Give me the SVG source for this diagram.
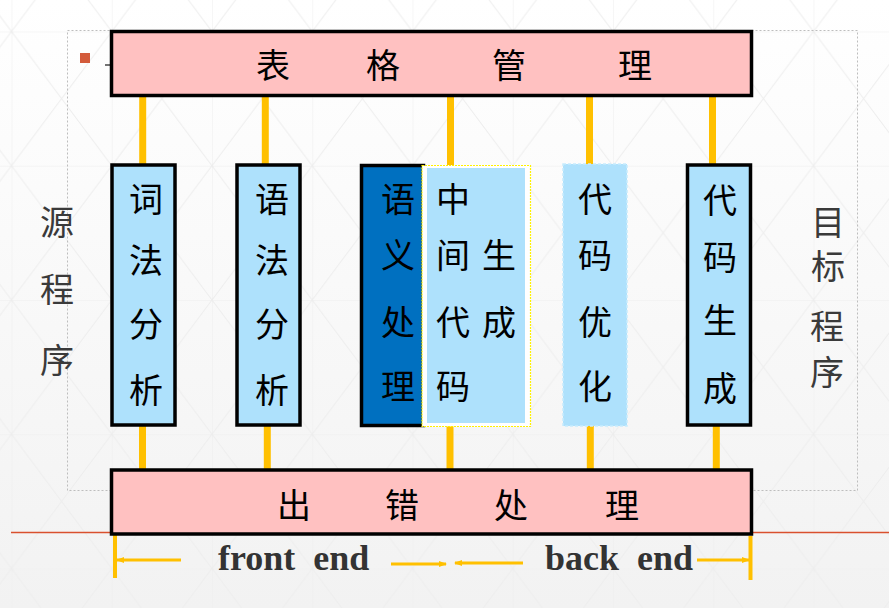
<svg xmlns="http://www.w3.org/2000/svg" width="889" height="608" viewBox="0 0 889 608">
<style>
.cjk{font-family:"Liberation Serif","Noto Sans CJK SC",serif;font-size:34px;fill:#000;text-anchor:middle}
.side{fill:#3a3a3a}
.bar{fill:#FFC1C1;stroke:#000;stroke-width:3.5}
.box{fill:#AEE1FC;stroke:#000;stroke-width:3.5}
.con{stroke:#FFC000;stroke-width:7}
.arr{stroke:#FFC000;stroke-width:3;fill:none}
.en{font-family:"Liberation Serif",serif;font-weight:bold;font-size:36px;fill:#333}
</style>
<defs>
<linearGradient id="bg" x1="0" y1="0" x2="0" y2="1">
<stop offset="0" stop-color="#ffffff"/>
<stop offset="1" stop-color="#f2f2f2"/>
</linearGradient>
<pattern id="grid" patternUnits="userSpaceOnUse" x="11.5" y="31.5" width="100.25" height="134.25">
<path d="M0 0H100.25M0 0V134.25M0 0L100.25 134.25M100.25 0L0 134.25" stroke="#ededed" stroke-width="1" fill="none"/>
</pattern>
<marker id="ah" markerWidth="8" markerHeight="6" refX="7" refY="3" orient="auto" markerUnits="userSpaceOnUse">
<path d="M0 0L8 3L0 6Z" fill="#FFC000"/>
</marker>
</defs>
<rect width="889" height="608" fill="url(#bg)"/>
<rect width="889" height="608" fill="url(#grid)"/>
<rect x="67.5" y="30.5" width="790" height="460" fill="none" stroke="#bdbdbd" stroke-width="1" stroke-dasharray="2 2"/>
<line x1="11" y1="532.5" x2="889" y2="532.5" stroke="#D9502E" stroke-width="1.5"/>
<rect x="80" y="53" width="10" height="10" fill="#D35B3B"/>
<line x1="105" y1="65" x2="111" y2="65" stroke="#444" stroke-width="1.5"/>

<g id="connectors">
<line class="con" x1="142.7" y1="97" x2="142.7" y2="164"/>
<line class="con" x1="265.3" y1="97" x2="265.3" y2="164"/>
<line class="con" x1="450.5" y1="97" x2="450.5" y2="165"/>
<line class="con" x1="589.5" y1="97" x2="589.5" y2="164"/>
<line class="con" x1="712.5" y1="97" x2="712.5" y2="164"/>
<line class="con" x1="142.5" y1="426" x2="142.5" y2="469"/>
<line class="con" x1="267.3" y1="426" x2="267.3" y2="469"/>
<line class="con" x1="450" y1="426" x2="450" y2="469"/>
<line class="con" x1="590.3" y1="426" x2="590.3" y2="469"/>
<line class="con" x1="716.3" y1="426" x2="716.3" y2="469"/>
<line x1="115" y1="534" x2="115" y2="578" stroke="#FFC000" stroke-width="4"/>
<line x1="750.5" y1="536" x2="750.5" y2="580" stroke="#FFC000" stroke-width="4"/>
<line class="arr" x1="181" y1="560" x2="117" y2="560" marker-end="url(#ah)"/>
<line class="arr" x1="391" y1="564" x2="446" y2="564" marker-end="url(#ah)"/>
<line class="arr" x1="523" y1="563" x2="455" y2="563" marker-end="url(#ah)"/>
<line class="arr" x1="697" y1="560" x2="749" y2="560" marker-end="url(#ah)"/>
</g>

<g id="table-mgmt">
<rect class="bar" x="111.5" y="31.5" width="640" height="64"/>
<text class="cjk" x="273" y="78">表</text>
<text class="cjk" x="383" y="78">格</text>
<text class="cjk" x="509" y="78">管</text>
<text class="cjk" x="635" y="78">理</text>
</g>

<g id="error-handling">
<rect class="bar" x="111.5" y="470" width="640" height="64"/>
<text class="cjk" x="294" y="518">出</text>
<text class="cjk" x="402" y="518">错</text>
<text class="cjk" x="511" y="518">处</text>
<text class="cjk" x="622" y="518">理</text>
</g>

<g id="source">
<text class="cjk side" x="57" y="235">源</text>
<text class="cjk side" x="57" y="302">程</text>
<text class="cjk side" x="57" y="373">序</text>
</g>

<g id="target">
<text class="cjk side" x="828" y="235">目</text>
<text class="cjk side" x="828" y="279">标</text>
<text class="cjk side" x="827" y="339">程</text>
<text class="cjk side" x="827" y="385">序</text>
</g>

<g id="lexical">
<rect class="box" x="112" y="165" width="63" height="260"/>
<text class="cjk" x="146" y="212">词</text>
<text class="cjk" x="146" y="273">法</text>
<text class="cjk" x="146" y="337">分</text>
<text class="cjk" x="146" y="403">析</text>
</g>

<g id="syntax">
<rect class="box" x="237" y="165" width="63" height="260"/>
<text class="cjk" x="272" y="212">语</text>
<text class="cjk" x="272" y="273">法</text>
<text class="cjk" x="272" y="337">分</text>
<text class="cjk" x="272" y="403">析</text>
</g>

<g id="semantic">
<rect x="361.5" y="165.5" width="62" height="260" fill="#0070C0" stroke="#000" stroke-width="3.5"/>
<text class="cjk" x="398" y="212">语</text>
<text class="cjk" x="398" y="268">义</text>
<text class="cjk" x="398" y="335">处</text>
<text class="cjk" x="398" y="399">理</text>
</g>

<g id="ir-gen">
<rect x="422" y="165.5" width="108.5" height="261" fill="#ffffff" stroke="#FFF200" stroke-width="1.2" stroke-dasharray="2 1"/>
<rect x="427" y="168" width="98" height="255" fill="#AEE1FC"/>
<text class="cjk" x="453" y="212">中</text>
<text class="cjk" x="453" y="268">间</text>
<text class="cjk" x="453" y="335">代</text>
<text class="cjk" x="453" y="399">码</text>
<text class="cjk" x="499" y="268">生</text>
<text class="cjk" x="499" y="335">成</text>
</g>

<g id="optimize">
<rect x="563" y="164" width="64" height="262" fill="#AEE1FC" stroke="#c8ecfd" stroke-width="1.5" stroke-dasharray="3 2"/>
<text class="cjk" x="595" y="212">代</text>
<text class="cjk" x="595" y="268">码</text>
<text class="cjk" x="595" y="335">优</text>
<text class="cjk" x="595" y="399">化</text>
</g>

<g id="codegen">
<rect class="box" x="687.5" y="165" width="63" height="260"/>
<text class="cjk" x="720" y="213">代</text>
<text class="cjk" x="720" y="270">码</text>
<text class="cjk" x="720" y="333">生</text>
<text class="cjk" x="720" y="401">成</text>
</g>

<g id="labels">
<text class="en" x="218" y="570" xml:space="preserve">front  end</text>
<text class="en" x="545" y="570" xml:space="preserve">back  end</text>
</g>
</svg>
